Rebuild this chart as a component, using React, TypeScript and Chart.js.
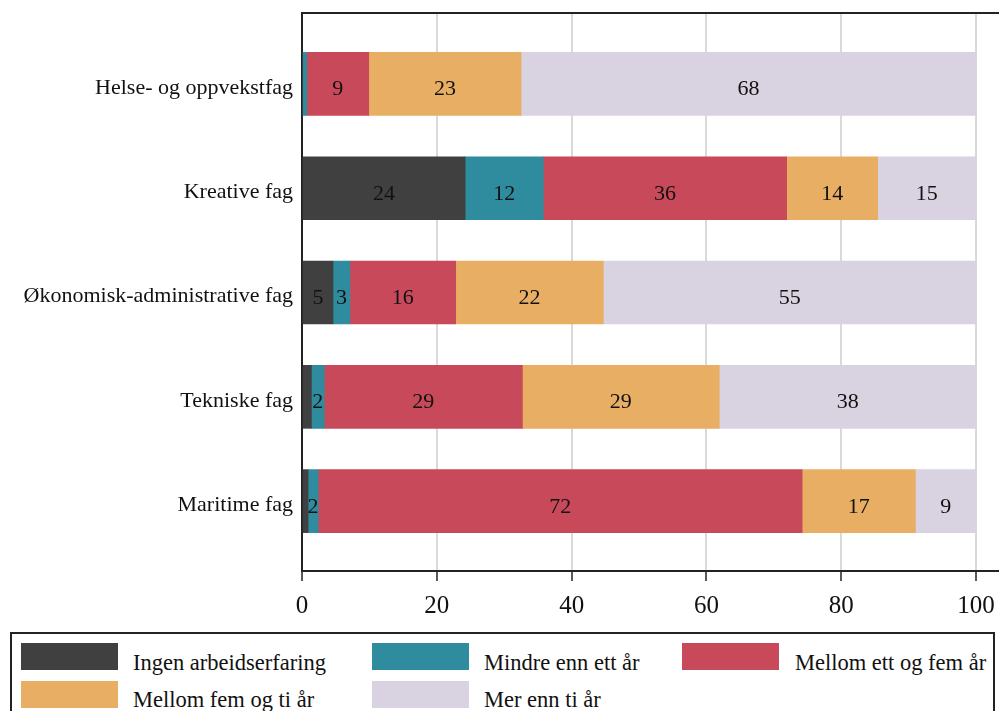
import React, { useEffect, useRef } from "react";
import { Chart, registerables } from "chart.js";

Chart.register(...registerables);

const categories = [
  "Helse- og oppvekstfag",
  "Kreative fag",
  "Økonomisk-administrative fag",
  "Tekniske fag",
  "Maritime fag",
];
const seriesNames = [
  "Ingen arbeidserfaring",
  "Mindre enn ett år",
  "Mellom ett og fem år",
  "Mellom fem og ti år",
  "Mer enn ti år",
];
const ingen = [0, 24.2, 4.6, 1.4, 0.9];
const mindre = [0.7, 11.6, 2.5, 1.9, 1.5];
const ettFem = [9.2, 36.1, 15.7, 29.4, 71.8];
const femTi = [22.6, 13.5, 21.9, 29.2, 16.8];
const merTi = [67.5, 14.6, 55.3, 38.1, 9.0];
const xTicks = [0, 20, 40, 60, 80, 100];

const colors = ["#404040", "#2E8C9E", "#C84A5A", "#E8AE63", "#D9D2E0"];
const FONT = "'Liberation Serif', 'Times New Roman', serif";

const seriesValues = [ingen, mindre, ettFem, femTi, merTi];

const customPlugin = {
  id: "customDraw",
  afterDatasetsDraw(chart: any) {
    const ctx = chart.ctx;
    ctx.save();
    ctx.font = `22px ${FONT}`;
    ctx.fillStyle = "#111";
    ctx.textAlign = "center";
    ctx.textBaseline = "alphabetic";
    chart.data.datasets.forEach((ds: any, di: number) => {
      const meta = chart.getDatasetMeta(di);
      meta.data.forEach((el: any, i: number) => {
        const v = seriesValues[di][i];
        const r = Math.round(v);
        if (r < 2) return;
        const left = Math.min(el.x, el.base);
        const right = Math.max(el.x, el.base);
        const cx = (left + right) / 2;
        ctx.fillText(String(r), cx, el.y + 11.5);
      });
    });
    ctx.restore();
  },
  afterDraw(chart: any) {
    const { ctx, chartArea } = chart;
    ctx.save();
    ctx.strokeStyle = "#222";
    ctx.lineWidth = 2;
    ctx.beginPath();
    ctx.moveTo(chartArea.left - 1, chartArea.top);
    ctx.lineTo(chartArea.right, chartArea.top);
    ctx.stroke();
    ctx.restore();
  },
};

export default function App() {
  const canvasRef = useRef<HTMLCanvasElement>(null);

  useEffect(() => {
    if (!canvasRef.current) return;
    const chart = new Chart(canvasRef.current, {
      type: "bar",
      data: {
        datasets: seriesNames.map((name, di) => ({
          label: name,
          data: seriesValues[di].map((v, i) => ({ x: v, y: i })),
          backgroundColor: colors[di],
          borderWidth: 0,
          barThickness: 63,
        })),
      },
      options: {
        indexAxis: "y",
        animation: false,
        responsive: false,
        layout: { padding: { top: 13, right: 0, left: 0, bottom: 0 } },
        plugins: { legend: { display: false }, tooltip: { enabled: false } },
        scales: {
          x: {
            type: "linear",
            stacked: true,
            min: 0,
            max: 103.4,
            afterBuildTicks: (scale: any) => {
              scale.ticks = xTicks.map((v) => ({ value: v }));
            },
            afterFit: (scale: any) => {
              scale.height = 49;
              scale.paddingLeft = 0;
              scale.paddingRight = 0;
            },
            ticks: {
              font: { family: FONT, size: 25 },
              color: "#111",
              padding: 10,
              includeBounds: false,
            },
            grid: {
              color: "#d9d9d9",
              lineWidth: 2,
              tickColor: "#222",
              tickLength: 10,
              tickWidth: 1.5,
              drawTicks: true,
            },
            border: { display: true, color: "#222", width: 2 },
          },
          y: {
            type: "linear",
            stacked: true,
            reverse: true,
            offset: false,
            min: -0.68,
            max: 4.67,
            afterBuildTicks: (scale: any) => {
              scale.ticks = categories.map((_, i) => ({ value: i }));
            },
            afterFit: (scale: any) => {
              scale.width = 302;
              scale.paddingTop = 0;
              scale.paddingBottom = 0;
            },
            ticks: {
              font: { family: FONT, size: 22 },
              color: "#111",
              padding: 9,
              labelOffset: 4,
              autoSkip: false,
              includeBounds: false,
              callback: (v: any) => categories[v] ?? "",
            },
            grid: { display: false, drawTicks: false },
            border: { display: true, color: "#222", width: 2 },
          },
        },
      },
      plugins: [customPlugin],
    } as any);
    return () => chart.destroy();
  }, []);

  const legendCols = [
    { sx: 21, tx: 133 },
    { sx: 372, tx: 484 },
    { sx: 682, tx: 795 },
  ];
  const legendRows = [
    { sy: 643, ty: 650.5 },
    { sy: 681, ty: 687.5 },
  ];

  return (
    <div
      style={{
        position: "absolute",
        left: 0,
        top: 0,
        width: 999,
        height: 711,
        overflow: "hidden",
        background: "#fff",
        fontFamily: FONT,
      }}
    >
      <canvas
        ref={canvasRef}
        width={999}
        height={620}
        style={{ position: "absolute", left: 0, top: 0, width: 999, height: 620 }}
      />
      <div
        style={{
          position: "absolute",
          left: 10,
          top: 632,
          width: 985,
          height: 100,
          border: "2px solid #222",
          boxSizing: "border-box",
        }}
      />
      {seriesNames.map((name, i) => {
        const col = legendCols[i % 3];
        const row = legendRows[Math.floor(i / 3)];
        return (
          <React.Fragment key={name}>
            <div
              style={{
                position: "absolute",
                left: col.sx,
                top: row.sy,
                width: 97,
                height: 27,
                background: colors[i],
              }}
            />
            <div
              style={{
                position: "absolute",
                left: col.tx,
                top: row.ty,
                fontSize: 22.5,
                lineHeight: "23px",
                color: "#111",
                whiteSpace: "nowrap",
              }}
            >
              {name}
            </div>
          </React.Fragment>
        );
      })}
    </div>
  );
}
